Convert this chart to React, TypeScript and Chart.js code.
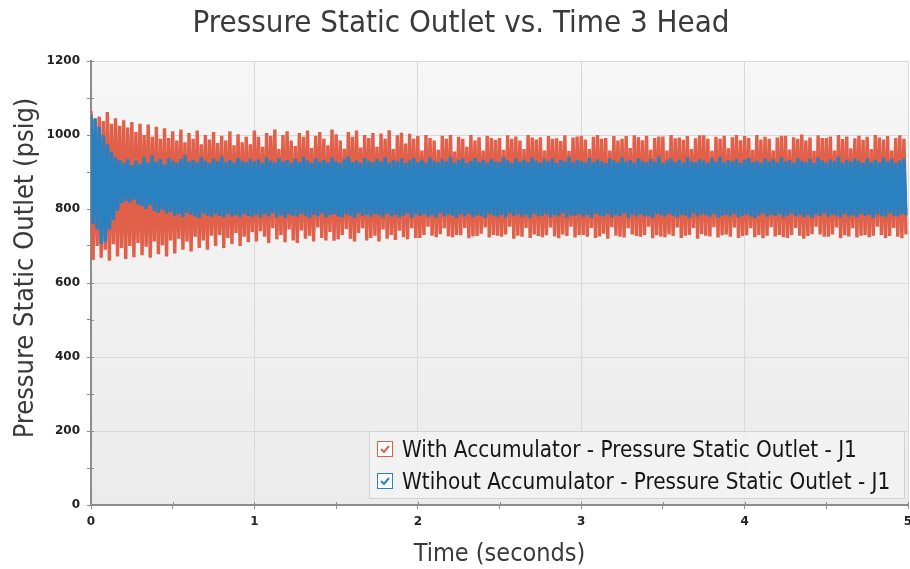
import React, { useEffect, useRef } from "react";
import { Chart, registerables } from "chart.js";

Chart.register(...registerables);

const chartTitle = "Pressure Static Outlet vs. Time 3 Head";
const xAxisTitle = "Time (seconds)";
const yAxisTitle = "Pressure Static Outlet (psig)";
const seriesNames = [
  "With Accumulator - Pressure Static Outlet - J1",
  "Wtihout Accumulator - Pressure Static Outlet - J1",
];
const seriesColors = ["#E0604A", "#2B80BF"];

const xMin = 0;
const xMax = 5;
const yMin = 0;
const yMax = 1200;

// seconds between successive peaks of the oscillation
const cyclePeriod = 0.025;

// With Accumulator: peak and trough of each cycle (psig)
const redPeaks = [
  1065, 1042, 1050, 1038, 1062, 1030, 1045, 1025, 1040, 1020,
  1035, 1008, 1030, 1000, 1028, 995, 1022, 990, 1018, 992,
  1010, 985, 1015, 980, 1005, 990, 1012, 975, 1000, 988,
  1008, 978, 998, 985, 1010, 972, 1002, 980, 995, 975,
  1012, 995, 968, 1005, 998, 1015, 962, 1000, 1010, 985,
  970, 1005, 995, 1012, 965, 998, 1008, 990, 972, 1015,
  1002, 985, 963, 1008, 995, 1012, 966, 1000, 992, 1005,
  968, 1004, 990, 1013, 962, 999, 1006, 977, 1003, 990,
  997, 958, 1000, 992, 985, 960, 998, 990, 1000, 955,
  995, 990, 968, 1000, 985, 994, 958, 998, 992, 987,
  992, 960, 999, 990, 996, 985, 962, 1000, 993, 988,
  994, 958, 997, 990, 991, 984, 999, 957, 993, 996,
  998, 988, 962, 995, 1000, 990, 992, 958, 997, 985,
  990, 997, 965, 999, 994, 986, 998, 960, 992, 996,
  996, 958, 1000, 991, 993, 987, 997, 962, 991, 999,
  999, 990, 957, 995, 990, 998, 964, 994, 1000, 986,
  997, 992, 960, 1000, 988, 995, 990, 958, 993, 998,
  998, 961, 994, 990, 1001, 985, 993, 957, 999, 992,
  992, 996, 958, 1000, 989, 996, 964, 991, 998, 987,
  995, 962, 1000, 993, 988, 997, 958, 992, 999, 990,
];
const redTroughs = [
  662, 700, 668, 690, 660, 705, 672, 695, 665, 700,
  670, 708, 675, 698, 668, 712, 678, 702, 672, 715,
  680, 720, 690, 712, 685, 725, 695, 715, 690, 728,
  700, 730, 695, 722, 705, 735, 700, 725, 710, 738,
  712, 740, 725, 708, 748, 718, 730, 710, 745, 715,
  708, 742, 720, 728, 712, 750, 722, 715, 738, 714,
  718, 730, 746, 720, 712, 735, 748, 715, 722, 728,
  712, 745, 720, 730, 716, 741, 724, 718, 748, 722,
  722, 730, 752, 728, 724, 732, 748, 726, 724, 730,
  729, 749, 721, 726, 727, 733, 750, 723, 730, 728,
  725, 731, 752, 720, 728, 725, 749, 722, 731, 727,
  724, 729, 750, 726, 721, 731, 727, 752, 723, 729,
  730, 725, 749, 722, 726, 733, 720, 751, 728, 725,
  723, 748, 731, 727, 725, 730, 752, 721, 729, 726,
  724, 731, 727, 750, 722, 728, 730, 749, 720, 732,
  728, 726, 751, 723, 729, 731, 725, 750, 722, 727,
  729, 748, 724, 730, 721, 728, 751, 726, 730, 724,
  722, 730, 749, 728, 720, 727, 732, 752, 731, 725,
  725, 731, 750, 721, 729, 726, 748, 723, 728, 730,
  724, 728, 752, 730, 722, 727, 749, 725, 721, 731,
];

// Without Accumulator: peak and trough of each cycle (psig)
const bluePeaks = [
  1055, 1045, 1022, 1000, 975, 955, 940, 932, 925, 935,
  918, 930, 922, 940, 925, 945, 928, 935, 920, 938,
  930, 925, 935, 945, 928, 932, 926, 940, 930, 924,
  936, 929, 942, 927, 933, 925, 938, 930, 926, 935,
  928, 934, 924, 940, 930, 926, 937, 929, 932, 925,
  935, 927, 941, 930, 924, 936, 928, 933, 926, 939,
  929, 925, 934, 942, 927, 931, 924, 937, 930, 926,
  935, 928, 940, 925, 932, 929, 936, 924, 931, 938,
  927, 933, 925, 939, 930, 926, 934, 928, 941, 925,
  932, 936, 924, 930, 938, 927, 933, 925, 935, 929,
  926, 940, 931, 924, 936, 928, 933, 927, 939, 930,
  925, 934, 929, 937, 924, 932, 928, 941, 926, 933,
  930, 925, 938, 927, 934, 929, 924, 936, 931, 926,
  940, 928, 933, 925, 937, 930, 926, 935, 928, 942,
  924, 931, 936, 927, 933, 925, 939, 929, 926, 934,
  930, 925, 937, 928, 941, 926, 932, 929, 935, 924,
  933, 938, 927, 930, 925, 936, 929, 934, 926, 940,
  928, 932, 925, 937, 930, 927, 935, 924, 939, 931,
  926, 934, 929, 941, 925, 933, 928, 936, 930, 924,
  937, 927, 932, 926, 939, 929, 934, 925, 931, 936,
];
const blueTroughs = [
  760, 745, 705, 712, 745, 770, 795, 815, 822, 818,
  825, 812, 808, 800, 810, 795, 790, 798, 788, 792,
  782, 786, 778, 790, 784, 780, 776, 788, 782, 779,
  785, 781, 777, 786, 780, 783, 778, 787, 781, 779,
  784, 777, 786, 780, 789, 778, 783, 776, 785, 781,
  779, 787, 782, 776, 784, 780, 788, 777, 783, 786,
  780, 778, 785, 782, 776, 789, 781, 784, 779, 786,
  783, 777, 787, 780, 784, 778, 782, 788, 776, 785,
  781, 786, 779, 783, 777, 788, 780, 784, 782, 776,
  785, 780, 787, 778, 783, 781, 776, 786, 782, 779,
  784, 777, 788, 781, 785, 779, 783, 776, 787, 780,
  782, 786, 778, 784, 780, 789, 777, 783, 781, 785,
  779, 784, 776, 787, 782, 780, 786, 778, 783, 781,
  788, 777, 784, 780, 785, 779, 782, 776, 786, 783,
  780, 787, 781, 778, 784, 782, 776, 788, 780, 785,
  783, 779, 786, 777, 782, 784, 780, 787, 778, 781,
  785, 780, 776, 783, 788, 779, 784, 781, 786, 777,
  782, 787, 780, 784, 778, 783, 776, 785, 781, 788,
  779, 784, 782, 777, 786, 780, 783, 778, 787, 781,
  784, 776, 785, 781, 779, 788, 782, 780, 786, 783,
];

const peakSeries = [redPeaks, bluePeaks];
const troughSeries = [redTroughs, blueTroughs];

function zigzag(peaks: number[], troughs: number[]) {
  const pts: { x: number; y: number }[] = [];
  for (let i = 0; i < peaks.length; i++) {
    pts.push({ x: i * cyclePeriod, y: peaks[i] });
    pts.push({ x: i * cyclePeriod + cyclePeriod / 2, y: troughs[i] });
  }
  return pts;
}

const UI_FONT = '"DejaVu Sans Condensed", "DejaVu Sans", sans-serif';
const TICK_FONT = '"DejaVu Sans", sans-serif';

const decorPlugin = {
  id: "decor",
  beforeDraw(chart: any) {
    const { ctx, chartArea, width, height } = chart;
    ctx.save();
    ctx.fillStyle = "#ffffff";
    ctx.fillRect(0, 0, width, height);
    const g = ctx.createLinearGradient(0, chartArea.top, 0, chartArea.bottom);
    g.addColorStop(0, "#f6f6f6");
    g.addColorStop(1, "#ebebeb");
    ctx.fillStyle = g;
    ctx.fillRect(
      chartArea.left,
      chartArea.top,
      chartArea.right - chartArea.left,
      chartArea.bottom - chartArea.top
    );
    ctx.restore();
  },
  beforeDatasetsDraw(chart: any) {
    const { ctx, chartArea, scales } = chart;
    ctx.save();
    ctx.strokeStyle = "#8c8c8c";
    ctx.lineWidth = 1;
    ctx.beginPath();
    for (const t of scales.x.ticks) {
      const px = Math.round(scales.x.getPixelForValue(t.value)) + 0.5;
      ctx.moveTo(px, chartArea.bottom);
      ctx.lineTo(px, chartArea.bottom - 3);
    }
    for (const t of scales.y.ticks) {
      const py = Math.round(scales.y.getPixelForValue(t.value)) + 0.5;
      ctx.moveTo(chartArea.left, py);
      ctx.lineTo(chartArea.left + 3, py);
    }
    ctx.stroke();
    ctx.restore();
  },
  afterDraw(chart: any) {
    const { ctx, chartArea } = chart;
    ctx.save();
    // chart title
    ctx.fillStyle = "#3a3a3a";
    ctx.font = `31px ${UI_FONT}`;
    ctx.textAlign = "center";
    ctx.textBaseline = "alphabetic";
    ctx.fillText(chartTitle, 461, 32);
    // x axis title
    ctx.font = `25px ${UI_FONT}`;
    ctx.fillText(xAxisTitle, (chartArea.left + chartArea.right) / 2, 561);
    // y axis title
    ctx.save();
    ctx.font = `27px ${UI_FONT}`;
    ctx.translate(26, 268);
    ctx.rotate(-Math.PI / 2);
    ctx.textBaseline = "middle";
    ctx.fillText(yAxisTitle, 0, 0);
    ctx.restore();

    // legend
    const bx = 369.5, by = 431.5, bw = 535, bh = 67;
    ctx.fillStyle = "rgba(242,242,242,0.92)";
    ctx.fillRect(bx, by, bw, bh);
    ctx.strokeStyle = "#d2d2d2";
    ctx.lineWidth = 1;
    ctx.strokeRect(bx, by, bw, bh);
    seriesNames.forEach((name, i) => {
      const cy = 441 + i * 32;
      const cx = 377;
      ctx.fillStyle = "#ffffff";
      ctx.fillRect(cx, cy, 15, 15);
      ctx.strokeStyle = seriesColors[i];
      ctx.lineWidth = 1;
      ctx.strokeRect(cx + 0.5, cy + 0.5, 15, 15);
      // check mark
      ctx.beginPath();
      ctx.lineWidth = 2;
      ctx.moveTo(cx + 4, cy + 8);
      ctx.lineTo(cx + 7, cy + 11);
      ctx.lineTo(cx + 12, cy + 5);
      ctx.stroke();
      ctx.fillStyle = "#151515";
      ctx.font = `22.3px ${UI_FONT}`;
      ctx.textAlign = "left";
      ctx.textBaseline = "alphabetic";
      ctx.fillText(name, 402, cy + 16);
    });
    ctx.restore();
  },
};

export default function App() {
  const canvasRef = useRef<HTMLCanvasElement | null>(null);

  useEffect(() => {
    if (!canvasRef.current) return;
    const datasets = seriesNames.map((name, i) => ({
      label: name,
      data: zigzag(peakSeries[i], troughSeries[i]),
      borderColor: seriesColors[i],
      backgroundColor: seriesColors[i],
      borderWidth: 3.4,
      borderJoinStyle: "bevel" as const,
      pointRadius: 0,
      tension: 0,
      fill: false,
      order: i === 0 ? 2 : 1,
    }));
    const chart = new Chart(canvasRef.current, {
      type: "line",
      data: { datasets },
      options: {
        animation: false,
        responsive: true,
        maintainAspectRatio: false,
        events: [],
        layout: { padding: { top: 61, right: 2, left: 0, bottom: 0 } },
        plugins: {
          legend: { display: false },
          title: { display: false },
          tooltip: { enabled: false },
        },
        scales: {
          x: {
            type: "linear",
            min: xMin,
            max: xMax,
            ticks: {
              stepSize: 0.5,
              autoSkip: false,
              maxRotation: 0,
              padding: 6,
              color: "#222",
              font: { family: TICK_FONT, size: 12, weight: "bold" },
              callback: (v: any) => (Number.isInteger(v) ? String(v) : ""),
            },
            grid: {
              color: (c: any) =>
                c.tick && Number.isInteger(c.tick.value) ? "#d9d9d9" : "rgba(0,0,0,0)",
              tickColor: "#8c8c8c",
              tickLength: 4,
              lineWidth: 1,
            },
            border: { color: "#8c8c8c", width: 2 },
            afterFit: (s: any) => {
              s.height = 64;
              s.paddingLeft = 0;
              s.paddingRight = 0;
            },
          },
          y: {
            type: "linear",
            min: yMin,
            max: yMax,
            ticks: {
              stepSize: 100,
              autoSkip: false,
              padding: 7,
              color: "#222",
              font: { family: TICK_FONT, size: 12, weight: "bold" },
              callback: (v: any) => (v % 200 === 0 ? String(v) : ""),
            },
            grid: {
              color: (c: any) =>
                c.tick && c.tick.value % 200 === 0 ? "#d9d9d9" : "rgba(0,0,0,0)",
              tickColor: "#8c8c8c",
              tickLength: 4,
              lineWidth: 1,
            },
            border: { color: "#8c8c8c", width: 2 },
            afterFit: (s: any) => {
              s.width = 91;
              s.paddingTop = 0;
              s.paddingBottom = 0;
            },
          },
        },
      },
      plugins: [decorPlugin],
    });
    return () => chart.destroy();
  }, []);

  return (
    <div style={{ position: "fixed", left: 0, top: 0, width: 910, height: 569, background: "#fff" }}>
      <canvas ref={canvasRef} />
    </div>
  );
}
